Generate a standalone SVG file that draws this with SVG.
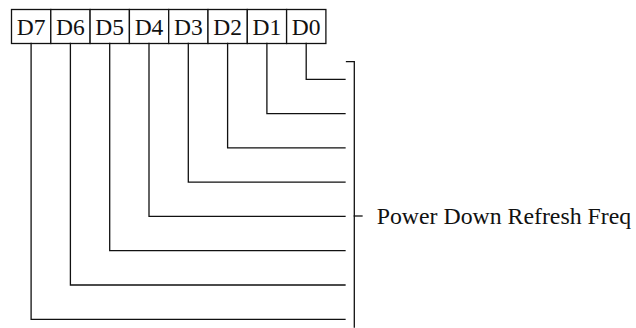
<svg xmlns="http://www.w3.org/2000/svg" width="636" height="328" viewBox="0 0 636 328">
<style>
.ln{fill:none;stroke:#111;stroke-width:1.3;stroke-linecap:square}
.bx{fill:#fff;stroke:#111;stroke-width:1.3}
.lb{font-family:"Liberation Serif","Times New Roman",serif;font-size:23.5px;fill:#111;text-anchor:middle}
.tx{font-family:"Liberation Serif","Times New Roman",serif;font-size:23.8px;fill:#111}
</style>
<g id="register">
<g id="D7"><rect class="bx" x="11.5" y="9.5" width="39.3" height="34"/><text class="lb" x="31.1" y="35">D7</text></g>
<g id="D6"><rect class="bx" x="50.8" y="9.5" width="39.3" height="34"/><text class="lb" x="70.4" y="35">D6</text></g>
<g id="D5"><rect class="bx" x="90.1" y="9.5" width="39.3" height="34"/><text class="lb" x="109.7" y="35">D5</text></g>
<g id="D4"><rect class="bx" x="129.4" y="9.5" width="39.3" height="34"/><text class="lb" x="149" y="35">D4</text></g>
<g id="D3"><rect class="bx" x="168.7" y="9.5" width="39.3" height="34"/><text class="lb" x="188.3" y="35">D3</text></g>
<g id="D2"><rect class="bx" x="208" y="9.5" width="39.3" height="34"/><text class="lb" x="227.6" y="35">D2</text></g>
<g id="D1"><rect class="bx" x="247.3" y="9.5" width="39.3" height="34"/><text class="lb" x="266.9" y="35">D1</text></g>
<g id="D0"><rect class="bx" x="286.6" y="9.5" width="39.3" height="34"/><text class="lb" x="306.2" y="35">D0</text></g>
</g>
<g id="connectors">
<polyline class="ln" points="306.2,43.5 306.2,79.3 345,79.3"/>
<polyline class="ln" points="266.9,43.5 266.9,113.6 345,113.6"/>
<polyline class="ln" points="227.6,43.5 227.6,147.9 345,147.9"/>
<polyline class="ln" points="188.3,43.5 188.3,182.2 345,182.2"/>
<polyline class="ln" points="149,43.5 149,216.4 345,216.4"/>
<polyline class="ln" points="109.7,43.5 109.7,250.7 345,250.7"/>
<polyline class="ln" points="70.4,43.5 70.4,285 345,285"/>
<polyline class="ln" points="31.1,43.5 31.1,319.3 345,319.3"/>
</g>
<g id="bracket">
<polyline class="ln" points="346.5,61.7 354.3,61.7 354.3,327"/>
<line class="ln" x1="354.3" y1="216" x2="362" y2="216"/>
</g>
<g id="label">
<text class="tx" x="376.7" y="223.5">Power Down Refresh Freq</text>
</g>
</svg>
